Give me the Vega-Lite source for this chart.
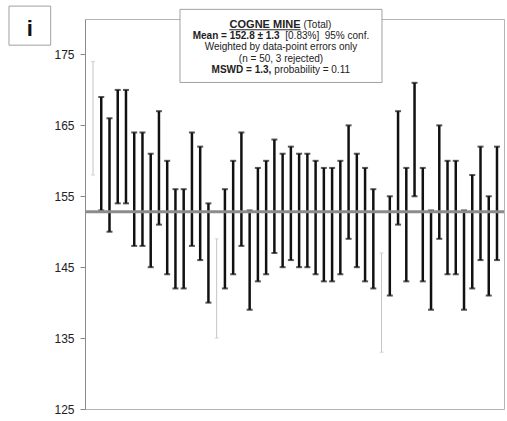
{
  "$schema": "https://vega.github.io/schema/vega-lite/v6.json",
  "width": 419,
  "height": 390,
  "autosize": "none",
  "padding": {"left": 85, "top": 19, "right": 3, "bottom": 12},
  "background": "white",
  "config": {"view": {"stroke": "#b4b4b4", "strokeWidth": 1}, "font": "Liberation Sans"},
  "datasets": {
    "pts": [
      {"i": 0, "lo": 158, "hi": 174, "r": true},
      {"i": 1, "lo": 153, "hi": 169, "r": false},
      {"i": 2, "lo": 150, "hi": 166, "r": false},
      {"i": 3, "lo": 154, "hi": 170, "r": false},
      {"i": 4, "lo": 154, "hi": 170, "r": false},
      {"i": 5, "lo": 148, "hi": 164, "r": false},
      {"i": 6, "lo": 148, "hi": 164, "r": false},
      {"i": 7, "lo": 145, "hi": 161, "r": false},
      {"i": 8, "lo": 151, "hi": 167, "r": false},
      {"i": 9, "lo": 144, "hi": 160, "r": false},
      {"i": 10, "lo": 142, "hi": 156, "r": false},
      {"i": 11, "lo": 142, "hi": 156, "r": false},
      {"i": 12, "lo": 148, "hi": 164, "r": false},
      {"i": 13, "lo": 146, "hi": 162, "r": false},
      {"i": 14, "lo": 140, "hi": 154, "r": false},
      {"i": 15, "lo": 135, "hi": 149, "r": true},
      {"i": 16, "lo": 142, "hi": 156, "r": false},
      {"i": 17, "lo": 144, "hi": 160, "r": false},
      {"i": 18, "lo": 148, "hi": 164, "r": false},
      {"i": 19, "lo": 139, "hi": 153, "r": false},
      {"i": 20, "lo": 143, "hi": 159, "r": false},
      {"i": 21, "lo": 144, "hi": 160, "r": false},
      {"i": 22, "lo": 147, "hi": 163, "r": false},
      {"i": 23, "lo": 145, "hi": 161, "r": false},
      {"i": 24, "lo": 146, "hi": 162, "r": false},
      {"i": 25, "lo": 145, "hi": 161, "r": false},
      {"i": 26, "lo": 145, "hi": 161, "r": false},
      {"i": 27, "lo": 144, "hi": 160, "r": false},
      {"i": 28, "lo": 143, "hi": 159, "r": false},
      {"i": 29, "lo": 143, "hi": 159, "r": false},
      {"i": 30, "lo": 144, "hi": 160, "r": false},
      {"i": 31, "lo": 149, "hi": 165, "r": false},
      {"i": 32, "lo": 145, "hi": 161, "r": false},
      {"i": 33, "lo": 143, "hi": 159, "r": false},
      {"i": 34, "lo": 142, "hi": 156, "r": false},
      {"i": 35, "lo": 133, "hi": 147, "r": true},
      {"i": 36, "lo": 141, "hi": 155, "r": false},
      {"i": 37, "lo": 151, "hi": 167, "r": false},
      {"i": 38, "lo": 143, "hi": 159, "r": false},
      {"i": 39, "lo": 155, "hi": 171, "r": false},
      {"i": 40, "lo": 143, "hi": 159, "r": false},
      {"i": 41, "lo": 139, "hi": 153, "r": false},
      {"i": 42, "lo": 149, "hi": 165, "r": false},
      {"i": 43, "lo": 144, "hi": 160, "r": false},
      {"i": 44, "lo": 144, "hi": 160, "r": false},
      {"i": 45, "lo": 139, "hi": 153, "r": false},
      {"i": 46, "lo": 142, "hi": 158, "r": false},
      {"i": 47, "lo": 146, "hi": 162, "r": false},
      {"i": 48, "lo": 141, "hi": 155, "r": false},
      {"i": 49, "lo": 146, "hi": 162, "r": false}
    ]
  },
  "layer": [
    {
      "data": {"name": "pts"},
      "transform": [{"filter": "datum.r"}],
      "mark": {"type": "rule", "color": "#c4c4c4", "strokeWidth": 1},
      "encoding": {
        "x": {"field": "i", "type": "quantitative", "scale": {"domain": [-0.97, 49.85], "nice": false, "zero": false}, "axis": null},
        "y": {"field": "lo", "type": "quantitative", "scale": {"domain": [125, 180], "nice": false, "zero": false},
          "axis": {"title": null, "values": [125, 130, 135, 140, 145, 150, 155, 160, 165, 170, 175],
            "labelExpr": "datum.value % 10 == 5 ? datum.label : ''", "grid": false, "tickSize": 5,
            "tickColor": "#8a8a8a", "domainColor": "#8a8a8a", "labelFontSize": 12, "labelColor": "#222222",
            "labelPadding": 6, "labelFont": "Liberation Sans"}},
        "y2": {"field": "hi"}
      }
    },
    {
      "data": {"name": "pts"},
      "transform": [{"filter": "datum.r"}, {"fold": ["lo", "hi"], "as": ["k", "v"]}],
      "mark": {"type": "tick", "orient": "horizontal", "color": "#c4c4c4", "size": 4, "thickness": 1},
      "encoding": {
        "x": {"field": "i", "type": "quantitative"},
        "y": {"field": "v", "type": "quantitative", "title": null}
      }
    },
    {
      "data": {"name": "pts"},
      "transform": [{"filter": "!datum.r"}],
      "mark": {"type": "rule", "color": "#111111", "strokeWidth": 2.5},
      "encoding": {
        "x": {"field": "i", "type": "quantitative"},
        "y": {"field": "lo", "type": "quantitative", "title": null},
        "y2": {"field": "hi"}
      }
    },
    {
      "data": {"name": "pts"},
      "transform": [{"filter": "!datum.r"}, {"fold": ["lo", "hi"], "as": ["k", "v"]}],
      "mark": {"type": "tick", "orient": "horizontal", "color": "#111111", "size": 6, "thickness": 2},
      "encoding": {
        "x": {"field": "i", "type": "quantitative"},
        "y": {"field": "v", "type": "quantitative", "title": null}
      }
    },
    {
      "data": {"values": [{"m": 152.8}]},
      "mark": {"type": "rule", "color": "#8c8c8c", "strokeWidth": 3},
      "encoding": {"y": {"field": "m", "type": "quantitative", "title": null}}
    },
    {
      "data": {"values": [{"x1": 10.55, "x2": 35.05, "y1": 171.05, "y2": 181.36}, {"x1": -10.19, "x2": -5.13, "y1": 176.31, "y2": 181.82}]},
      "mark": {"type": "rect", "fill": "white", "stroke": "#a0a0a0", "strokeWidth": 1},
      "encoding": {
        "x": {"field": "x1", "type": "quantitative"},
        "x2": {"field": "x2"},
        "y": {"field": "y1", "type": "quantitative", "title": null},
        "y2": {"field": "y2"}
      }
    },
    {
      "data": {"values": [{"x1": 16.53, "x2": 25.17, "y": 178.48}]},
      "mark": {"type": "rule", "color": "#222222", "strokeWidth": 1},
      "encoding": {
        "x": {"field": "x1", "type": "quantitative"},
        "x2": {"field": "x2"},
        "y": {"field": "y", "type": "quantitative", "title": null}
      }
    },
    {
      "data": {"values": [{"t": "COGNE MINE", "x": 25.17, "y": 179.19}]},
      "mark": {"type": "text", "align": "right", "baseline": "middle", "fontSize": 11, "fontWeight": "bold", "color": "#222222", "font": "Liberation Sans"},
      "encoding": {"x": {"field": "x", "type": "quantitative"}, "y": {"field": "y", "type": "quantitative", "title": null}, "text": {"field": "t"}}
    },
    {
      "data": {"values": [{"t": "Mean = 152.8 ± 1.3", "x": 22.64, "y": 177.58}, {"t": "MSWD = 1.3,", "x": 21.63, "y": 172.74}]},
      "mark": {"type": "text", "align": "right", "baseline": "middle", "fontSize": 10, "fontWeight": "bold", "color": "#222222", "font": "Liberation Sans"},
      "encoding": {"x": {"field": "x", "type": "quantitative"}, "y": {"field": "y", "type": "quantitative", "title": null}, "text": {"field": "t"}}
    },
    {
      "data": {"values": [{"t": "(Total)", "x": 25.17, "y": 179.19}, {"t": "probability = 0.11", "x": 21.63, "y": 172.74}]},
      "mark": {"type": "text", "align": "left", "baseline": "middle", "dx": 3, "fontSize": 10, "color": "#222222", "font": "Liberation Sans"},
      "encoding": {"x": {"field": "x", "type": "quantitative"}, "y": {"field": "y", "type": "quantitative", "title": null}, "text": {"field": "t"}}
    },
    {
      "data": {"values": [{"t": "[0.83%]\u00a0 95% conf.", "x": 22.64, "y": 177.58}]},
      "mark": {"type": "text", "align": "left", "baseline": "middle", "dx": 5.6, "fontSize": 10, "color": "#222222", "font": "Liberation Sans"},
      "encoding": {"x": {"field": "x", "type": "quantitative"}, "y": {"field": "y", "type": "quantitative", "title": null}, "text": {"field": "t"}}
    },
    {
      "data": {"values": [{"t": "Weighted by data-point errors only", "x": 22.8, "y": 176.03}, {"t": "(n = 50, 3 rejected)", "x": 22.8, "y": 174.39}]},
      "mark": {"type": "text", "align": "center", "baseline": "middle", "fontSize": 10, "color": "#222222", "font": "Liberation Sans"},
      "encoding": {"x": {"field": "x", "type": "quantitative"}, "y": {"field": "y", "type": "quantitative", "title": null}, "text": {"field": "t"}}
    },
    {
      "data": {"values": [{"t": "i", "x": -7.66, "y": 178.53}]},
      "mark": {"type": "text", "align": "center", "baseline": "middle", "fontSize": 22, "fontWeight": "bold", "color": "#111111", "font": "Liberation Sans"},
      "encoding": {"x": {"field": "x", "type": "quantitative"}, "y": {"field": "y", "type": "quantitative", "title": null}, "text": {"field": "t"}}
    }
  ]
}
